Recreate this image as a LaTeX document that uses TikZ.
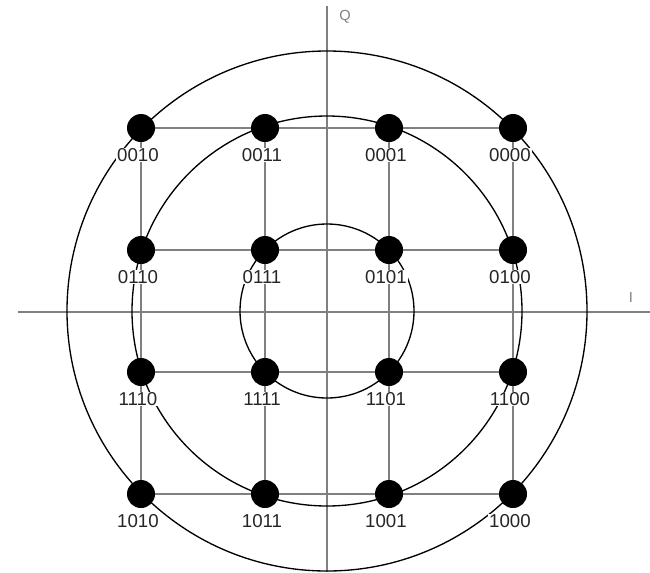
\documentclass[tikz,border=0pt]{standalone}
\usepackage{fontspec}
\setmainfont{Liberation Sans}
\begin{document}
\begin{tikzpicture}[x=0.75pt,y=-0.75pt,
  dot/.style={circle,fill=black,minimum size=21pt,inner sep=0pt},
  lab/.style={fill=white,inner sep=0.6pt,text=black!85,font=\fontsize{14}{14}\selectfont},
  axlab/.style={text=gray,font=\fontsize{11}{11}\selectfont},
  axis/.style={draw=gray,line width=1.1pt},
  gridl/.style={draw=gray,line width=1.3pt},
  ring/.style={draw=black,line width=1pt}]
\useasboundingbox (0,0) rectangle (650,572);
\coordinate (O) at (327,311);
\coordinate (Ileft) at (18,312);
\coordinate (Iright) at (650,312);
\coordinate (Qtop) at (327,6);
\coordinate (Qbot) at (327,572);
\draw[axis] (Ileft) -- (Iright);
\draw[axis] (Qtop) -- (Qbot);
\node[axlab] (Q) at (345,17) {Q};
\node[axlab] (I) at (631,297) {I};
\foreach \n/\x/\y in {0010/141/128,0011/265/128,0001/389/128,0000/513/128,
                      0110/141/250,0111/265/250,0101/389/250,0100/513/250,
                      1110/141/372,1111/265/372,1101/389/372,1100/513/372,
                      1010/141/494,1011/265/494,1001/389/494,1000/513/494}
  \coordinate (d\n) at (\x,\y);
% grid lines
\draw[gridl] (d0010) -- (d0000);
\draw[gridl] (d0110) -- (d0100);
\draw[gridl] (d1110) -- (d1100);
\draw[gridl] (d1010) -- (d1000);
\draw[gridl] (d0010) -- (d1010);
\draw[gridl] (d0011) -- (d1011);
\draw[gridl] (d0001) -- (d1001);
\draw[gridl] (d0000) -- (d1000);
% rings
\draw[ring] (O) circle[radius=260];
\draw[ring] (O) circle[radius=195];
\draw[ring] (O) circle[radius=87];
% dots and labels
\foreach \n in {0010,0011,0001,0000,0110,0111,0101,0100,1110,1111,1101,1100,1010,1011,1001,1000}{
  \node[dot] (n\n) at (d\n) {};
  \node[lab] (l\n) at ([shift={(-3,27)}]d\n) {\n};
}
\end{tikzpicture}
\end{document}
